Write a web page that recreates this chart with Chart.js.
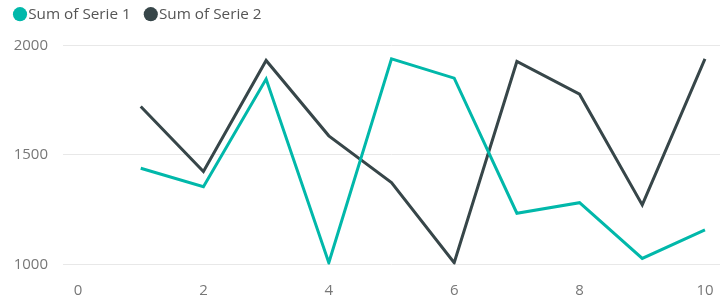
<!DOCTYPE html>
<html>
<head>
<meta charset="utf-8">
<script src="https://cdn.jsdelivr.net/npm/chart.js@4.4.1/dist/chart.umd.min.js"></script>
<style>
  html, body { margin: 0; padding: 0; background: #ffffff; }
  #wrap { width: 720px; height: 299px; position: relative; }
</style>
</head>
<body>
<div id="wrap"><canvas id="c" width="720" height="299"></canvas></div>
<script>
const categories = [1, 2, 3, 4, 5, 6, 7, 8, 9, 10];
const serie1 = [1439, 1355, 1846, 1008, 1938, 1850, 1234, 1282, 1028, 1158];
const serie2 = [1721, 1424, 1931, 1587, 1374, 1008, 1926, 1777, 1272, 1938];
const xTicks = [0, 2, 4, 6, 8, 10];
const yTicks = [1000, 1500, 2000];
const seriesNames = ['Sum of Serie 1', 'Sum of Serie 2'];

const FONT = '"Segoe UI", "Open Sans", "Noto Sans", sans-serif';

const toPoints = (vals) => categories.map((c, i) => ({ x: c, y: vals[i] }));

const legendHeightFix = {
  id: 'legendHeightFix',
  beforeInit(chart) {
    const origFit = chart.legend.fit;
    chart.legend.fit = function () {
      origFit.bind(chart.legend)();
      this.height = 58.3;
    };
  }
};

new Chart(document.getElementById('c'), {
  type: 'line',
  data: {
    datasets: [
      {
        label: seriesNames[0],
        data: toPoints(serie1),
        borderColor: '#01B8AA',
        backgroundColor: '#01B8AA',
        borderWidth: 3,
        pointRadius: 0,
        tension: 0
      },
      {
        label: seriesNames[1],
        data: toPoints(serie2),
        borderColor: '#374649',
        backgroundColor: '#374649',
        borderWidth: 3,
        pointRadius: 0,
        tension: 0
      }
    ]
  },
  options: {
    responsive: false,
    animation: false,
    layout: { padding: { top: -13, left: 0, right: 0, bottom: 1.5 } },
    plugins: {
      tooltip: { enabled: false },
      legend: {
        display: true,
        position: 'top',
        align: 'start',
        labels: {
          usePointStyle: true,
          pointStyle: 'circle',
          boxWidth: 1,
          boxHeight: 10,
          padding: 19.5,
          color: '#555555',
          font: { family: FONT, size: 15.3 },
          generateLabels: (chart) =>
            Chart.defaults.plugins.legend.labels.generateLabels(chart).map(l => ({ ...l, lineWidth: 0 }))
        }
      }
    },
    scales: {
      x: {
        type: 'linear',
        min: -0.24,
        max: 10.24,
        afterBuildTicks: (scale) => { scale.ticks = xTicks.map(v => ({ value: v })); },
        afterFit: (scale) => { scale.height = 33; scale.paddingLeft = 0; scale.paddingRight = 0; },
        grid: { display: false, drawTicks: false },
        border: { display: false },
        ticks: {
          padding: 19,
          color: '#777777',
          maxRotation: 0,
          font: { family: FONT, size: 15, lineHeight: 1 }
        }
      },
      y: {
        type: 'linear',
        min: 1000,
        max: 2000,
        afterBuildTicks: (scale) => { scale.ticks = yTicks.map(v => ({ value: v })); },
        afterFit: (scale) => { scale.width = 63; },
        grid: { color: '#e8e8e8', lineWidth: 1, drawTicks: false },
        border: { display: false },
        ticks: {
          padding: 15,
          color: '#777777',
          font: { family: FONT, size: 15 },
          callback: (v) => String(v)
        }
      }
    }
  },
  plugins: [legendHeightFix]
});
</script>
</body>
</html>
